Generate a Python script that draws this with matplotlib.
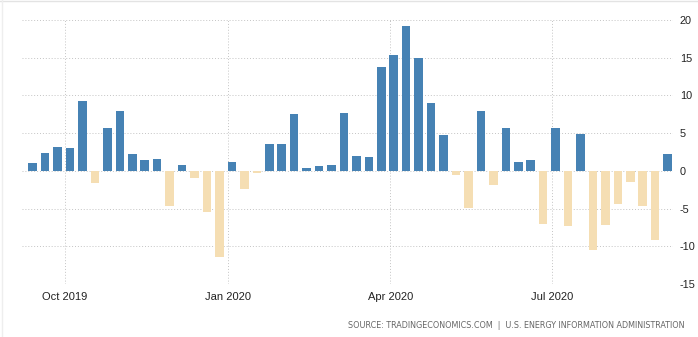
import matplotlib
matplotlib.use("Agg")
import matplotlib.pyplot as plt
from matplotlib.lines import Line2D
import pandas as pd

# Weekly change, first week ending 2019-09-13
start_date = "2019-09-13"
values = [1.1, 2.4, 3.2, 3.0, 9.3, -1.6, 5.7, 8.0, 2.3, 1.5,
          1.6, -4.7, 0.8, -1.0, -5.4, -11.4, 1.2, -2.4, -0.3, 3.6,
          3.5, 7.5, 0.4, 0.6, 0.8, 7.7, 2.0, 1.8, 13.8, 15.3,
          19.2, 15.0, 9.0, 4.7, -0.6, -4.9, 8.0, -1.9, 5.7, 1.2,
          1.5, -7.1, 5.7, -7.3, 4.9, -10.5, -7.2, -4.4, -1.5, -4.6,
          -9.2, 2.2]
dates = pd.date_range(start_date, periods=len(values), freq="7D")

xtick_dates = ["2019-10-01", "2020-01-01", "2020-04-01", "2020-07-01"]
xtick_labels = ["Oct 2019", "Jan 2020", "Apr 2020", "Jul 2020"]
ytick_values = [-15, -10, -5, 0, 5, 10, 15, 20]

pos_color = "#4682B4"
neg_color = "#F5DEB3"

W, H = 698, 337
fig = plt.figure(figsize=(W / 100, H / 100), dpi=100)
left, right, top, bottom = 22, 673, 20, 284
ax = fig.add_axes([left / W, 1 - bottom / H, (right - left) / W, (bottom - top) / H])

colors = [pos_color if v >= 0 else neg_color for v in values]
ax.bar(dates, values, width=4.8, color=colors, zorder=3)

ax.set_ylim(-15, 20)
ax.set_xlim(pd.Timestamp("2019-09-07"), pd.Timestamp("2020-09-07"))

ax.set_yticks(ytick_values)
ax.set_yticklabels([str(v) for v in ytick_values])
ax.yaxis.tick_right()
ax.set_xticks([pd.Timestamp(d) for d in xtick_dates])
ax.set_xticklabels(xtick_labels)

ax.tick_params(axis="both", length=0, colors="#222222")
ax.tick_params(axis="y", labelsize=7.8, pad=5)
ax.tick_params(axis="x", labelsize=8, pad=6)
for lab in ax.get_xticklabels() + ax.get_yticklabels():
    lab.set_fontfamily("Liberation Sans")

ax.grid(True, axis="both", linestyle=(0, (1, 2)), color="#C4C4C4", linewidth=0.7, zorder=0)
for s in ax.spines.values():
    s.set_visible(False)

fig.text(685 / W, 1 - 325 / H,
         "SOURCE: TRADINGECONOMICS.COM  |  U.S. ENERGY INFORMATION ADMINISTRATION",
         ha="right", va="center", fontsize=5.8, color="#666666", family="DejaVu Sans")

# faint container border (top and left)
fig.add_artist(Line2D([0, 1], [1 - 1 / H, 1 - 1 / H], transform=fig.transFigure, color="#E3E3E3", lw=1))
fig.add_artist(Line2D([2 / W, 2 / W], [0, 1], transform=fig.transFigure, color="#EEEEEE", lw=1))

fig.savefig("out.png", dpi=100)
